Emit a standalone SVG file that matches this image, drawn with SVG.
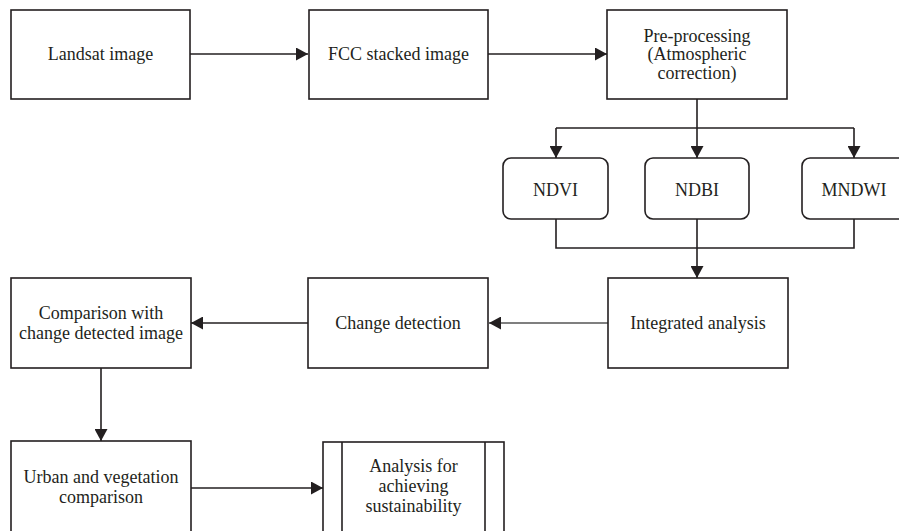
<svg xmlns="http://www.w3.org/2000/svg" width="899" height="531" viewBox="0 0 899 531">
<style>
.box{fill:#fff;stroke:#231f20;stroke-width:1.6}
.t{font-family:"Liberation Serif","Times New Roman",serif;font-size:18px;fill:#231f20;text-anchor:middle}
.c{fill:none;stroke:#231f20;stroke-width:1.6}
.a{marker-end:url(#ah)}
</style>
<defs>
<marker id="ah" markerUnits="userSpaceOnUse" markerWidth="12" markerHeight="13" refX="12" refY="6.5" orient="auto">
<path d="M0,0 L12,6.5 L0,13 z" fill="#231f20"/>
</marker>
</defs>
<rect width="899" height="531" fill="#fff"/>
<g id="connectors">
<line class="c a" x1="190" y1="54" x2="308" y2="54"/>
<line class="c a" x1="488" y1="54" x2="607" y2="54"/>
<polyline class="c" points="697,99 697,128"/>
<line class="c" x1="556" y1="128" x2="854" y2="128"/>
<line class="c a" x1="556" y1="128" x2="556" y2="158"/>
<line class="c a" x1="697" y1="128" x2="697" y2="158"/>
<line class="c a" x1="854" y1="128" x2="854" y2="158"/>
<polyline class="c" points="556,219 556,248 854,248 854,219"/>
<line class="c a" x1="697" y1="219" x2="697" y2="278"/>
<line class="c a" x1="608" y1="323" x2="489" y2="323" style="stroke:#555"/>
<line class="c a" x1="308" y1="323" x2="191" y2="323"/>
<line class="c a" x1="101" y1="368" x2="101" y2="441"/>
<line class="c a" x1="191" y1="488" x2="323" y2="488"/>
</g>
<g id="landsat">
<rect class="box" x="11" y="10" width="179" height="89"/>
<text class="t" x="100.5" y="60">Landsat image</text>
</g>
<g id="fcc">
<rect class="box" x="309" y="10" width="179" height="89"/>
<text class="t" x="398.5" y="60">FCC stacked image</text>
</g>
<g id="preprocessing">
<rect class="box" x="607" y="10" width="180" height="89"/>
<text class="t" x="697" y="41.5">Pre-processing</text>
<text class="t" x="697" y="60">(Atmospheric</text>
<text class="t" x="697" y="78.5">correction)</text>
</g>
<g id="ndvi">
<rect class="box" x="503" y="158" width="105" height="61" rx="8"/>
<text class="t" x="555.5" y="196">NDVI</text>
</g>
<g id="ndbi">
<rect class="box" x="645" y="158" width="104" height="61" rx="8"/>
<text class="t" x="697" y="196">NDBI</text>
</g>
<g id="mndwi">
<rect class="box" x="802" y="158" width="105" height="61" rx="8"/>
<text class="t" x="854" y="196">MNDWI</text>
</g>
<g id="integrated">
<rect class="box" x="608" y="278" width="180" height="90"/>
<text class="t" x="698" y="329">Integrated analysis</text>
</g>
<g id="change">
<rect class="box" x="308" y="278" width="180" height="90"/>
<text class="t" x="398" y="329">Change detection</text>
</g>
<g id="comparison">
<rect class="box" x="11" y="278" width="180" height="90"/>
<text class="t" x="101" y="318.5">Comparison with</text>
<text class="t" x="101" y="338.5">change detected image</text>
</g>
<g id="urban">
<rect class="box" x="11" y="441" width="180" height="100"/>
<text class="t" x="101" y="483">Urban and vegetation</text>
<text class="t" x="101" y="503">comparison</text>
</g>
<g id="analysis">
<rect class="box" x="323" y="442" width="181" height="100"/>
<line class="c" x1="342" y1="442" x2="342" y2="542"/>
<line class="c" x1="485" y1="442" x2="485" y2="542"/>
<text class="t" x="413.5" y="472">Analysis for</text>
<text class="t" x="413.5" y="492">achieving</text>
<text class="t" x="413.5" y="512">sustainability</text>
</g>
</svg>
